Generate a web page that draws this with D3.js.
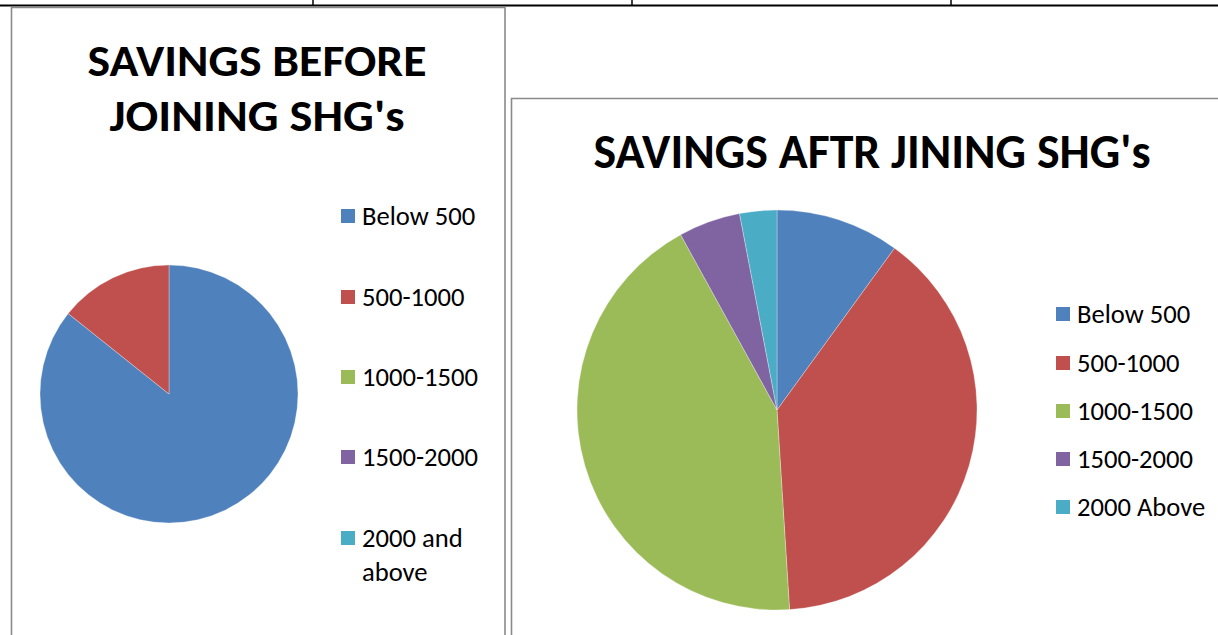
<!DOCTYPE html>
<html>
<head>
<meta charset="utf-8">
<script src="https://cdn.jsdelivr.net/npm/d3@7/dist/d3.min.js"></script>
<style>
  html, body { margin: 0; padding: 0; background: #ffffff; }
  svg { display: block; }
  text { font-family: Carlito, Calibri, "Open Sans", sans-serif; fill: #000; }
</style>
</head>
<body>
<svg id="chart" width="1218" height="635"></svg>
<script>
// ---- data ----
const beforeCategories = ["Below 500", "500-1000", "1000-1500", "1500-2000", "2000 and above"];
const beforeValues = [30, 5, 0, 0, 0];
const afterCategories = ["Below 500", "500-1000", "1000-1500", "1500-2000", "2000 Above"];
const afterValues = [10, 39, 43, 5, 3];
const beforeTitle = ["SAVINGS BEFORE", "JOINING SHG's"];
const afterTitle = ["SAVINGS AFTR JINING SHG's"];
const palette = ["#4F81BD", "#C0504D", "#9BBB59", "#8064A2", "#4BACC6"];

const svg = d3.select("#chart");

// ---- page table lines ----
svg.append("line").attr("x1", 0).attr("x2", 1218).attr("y1", 5.5).attr("y2", 5.5)
  .attr("stroke", "#000").attr("stroke-width", 2);
[313, 632, 951].forEach(x => {
  svg.append("line").attr("x1", x).attr("x2", x).attr("y1", 0).attr("y2", 6)
    .attr("stroke", "#000").attr("stroke-width", 1.5);
});

// ---- chart frames ----
svg.append("path").attr("d", "M11.5,640 L11.5,7.5 L505,7.5 L505,640")
  .attr("fill", "none").attr("stroke", "#8a8a8a").attr("stroke-width", 1.6);
svg.append("path").attr("d", "M511.5,640 L511.5,98.5 L1225,98.5")
  .attr("fill", "none").attr("stroke", "#8a8a8a").attr("stroke-width", 1.6);

const color = d3.scaleOrdinal().domain(d3.range(5)).range(palette);

function drawPie(cx, cy, r, values) {
  const pie = d3.pie().sort(null).value(d => d)(values);
  const arc = d3.arc().innerRadius(0).outerRadius(r);
  const g = svg.append("g").attr("transform", `translate(${cx},${cy})`);
  g.selectAll("path").data(pie).enter().append("path")
    .attr("d", arc)
    .attr("fill", (d, i) => color(i))
    .attr("stroke", d => d.value > 0 ? "rgba(255,255,255,0.5)" : "none")
    .attr("stroke-width", 0.6);
}

function drawTitle(lines, cx, baselines, size, widths) {
  lines.forEach((t, i) => {
    svg.append("text")
      .attr("x", cx).attr("y", baselines[i])
      .attr("text-anchor", "middle")
      .attr("font-size", size).attr("font-weight", "bold")
      .attr("textLength", widths[i]).attr("lengthAdjust", "spacingAndGlyphs")
      .text(t);
  });
}

function drawLegend(x, ys, cats, size, lineBreak) {
  cats.forEach((c, i) => {
    svg.append("rect").attr("x", x).attr("y", ys[i] - 7).attr("width", 14).attr("height", 14)
      .attr("fill", color(i));
    const t = svg.append("text").attr("x", x + 21).attr("y", ys[i] + 9)
      .attr("font-size", size);
    if (lineBreak && c === "2000 and above") {
      t.append("tspan").attr("x", x + 21).text("2000 and");
      t.append("tspan").attr("x", x + 21).attr("dy", 34).text("above");
    } else {
      t.text(c);
    }
  });
}

// left chart
drawTitle(beforeTitle, 257, [76, 131], 45, [339, 295]);
drawPie(169, 394, 129, beforeValues);
drawLegend(341, [216, 297, 377, 457, 538], beforeCategories, 26.6, true);

// right chart
drawTitle(afterTitle, 872, [168], 48, [557]);
drawPie(777, 410, 200, afterValues);
drawLegend(1056, [314, 363, 411, 459, 507], afterCategories, 26.6, false);
</script>
</body>
</html>
